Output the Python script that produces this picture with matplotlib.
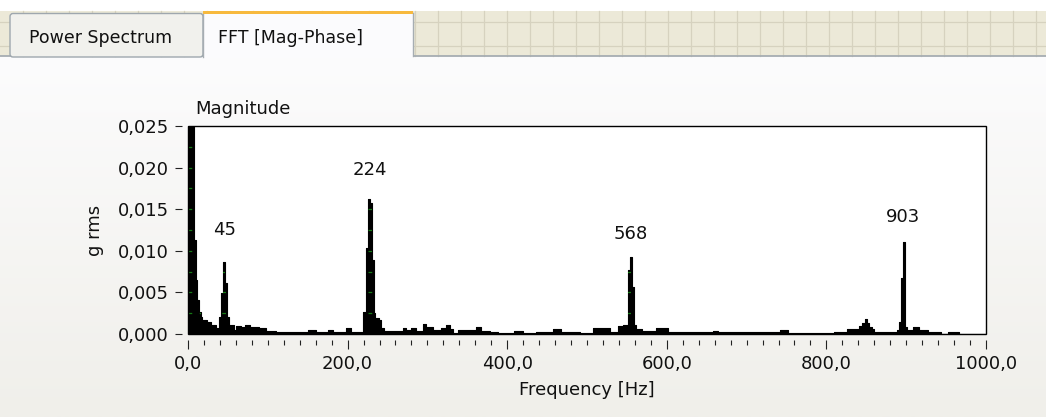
import numpy as np
import matplotlib
matplotlib.use("Agg")
import matplotlib.pyplot as plt
from matplotlib.patches import Rectangle, FancyBboxPatch
from matplotlib.ticker import FuncFormatter, MultipleLocator

# ---------------- data ----------------
freq_hz = [0, 7.5, 9.6, 11.7, 13.8, 15.8, 18, 24.2, 28.4, 34.7, 38.9, 41.4, 43.9,
           46.4, 48.5, 51.4, 57.7, 59.8, 66, 72, 78, 84, 89.5, 97.8, 110, 150,
           160.5, 175, 181.5, 198, 204.5, 219, 222.5, 225.3, 227.5, 230.4, 232.5,
           234.6, 239, 242, 246, 269, 273, 280, 286, 294, 298.6, 307, 317, 323.5,
           327.7, 332, 338, 361, 367, 378, 388, 409, 420, 436.5, 457.5, 468, 491,
           507.6, 528.6, 539, 545, 551.4, 553.9, 556.4, 558.7, 561, 568.4, 587,
           601.8, 658, 664.5, 742, 752, 809, 826, 841, 845, 848, 850.6, 853.5,
           857.7, 860, 889, 891, 893.7, 896.6, 899, 901.6, 908, 916, 927, 943,
           953, 966, 1000]
magnitude_grms = [0.0300, 0.0113, 0.0065, 0.0041, 0.0026, 0.0020, 0.0017, 0.0015,
                  0.0011, 0.0007, 0.0021, 0.0049, 0.0087, 0.0061, 0.0021, 0.0011,
                  0.0005, 0.0010, 0.0009, 0.0011, 0.0009, 0.0008, 0.0007, 0.0004,
                  0.0002, 0.0005, 0.0002, 0.0005, 0.0002, 0.0007, 0.0003, 0.0027,
                  0.0103, 0.0162, 0.0157, 0.0089, 0.0025, 0.0019, 0.0017, 0.0007,
                  0.0004, 0.0007, 0.0005, 0.0007, 0.0004, 0.0012, 0.0009, 0.0005,
                  0.0007, 0.0011, 0.0006, 0.0001, 0.0005, 0.0008, 0.0004, 0.0002,
                  0.0001, 0.0004, 0.0001, 0.0003, 0.0006, 0.0002, 0.0001, 0.0007,
                  0.0003, 0.0010, 0.0011, 0.0077, 0.0092, 0.0057, 0.0011, 0.0006,
                  0.0004, 0.0007, 0.0002, 0.0004, 0.0002, 0.0005, 0.0001, 0.0003,
                  0.0006, 0.0010, 0.0013, 0.0018, 0.0013, 0.0009, 0.0006, 0.0003,
                  0.0005, 0.0015, 0.0067, 0.0111, 0.0009, 0.0005, 0.0008, 0.0005,
                  0.0003, 0.0000, 0.0003, 0.0000, 0.0000]

peak_labels = ["45", "224", "568", "903"]
peak_label_freq = [45.3, 228.4, 555.0, 896.0]
peak_label_mag = [0.0125, 0.0197, 0.0120, 0.0141]

tab_names = ["Power Spectrum", "FFT [Mag-Phase]"]

# ---------------- figure ----------------
W, H = 1046, 417
fig = plt.figure(figsize=(W / 100, H / 100), dpi=100, facecolor="white")
FONT = "DejaVu Sans"
plt.rcParams["font.family"] = [FONT]

# background / decoration in pixel coordinates
bg = fig.add_axes([0, 0, 1, 1])
bg.set_xlim(0, W)
bg.set_ylim(H, 0)
bg.axis("off")

top_c = np.array([252, 252, 253]) / 255
bot_c = np.array([240, 239, 234]) / 255
t = np.linspace(0, 1, 256)[:, None, None]
grad = top_c[None, None, :] * (1 - t) + bot_c[None, None, :] * t
bg.imshow(grad, extent=(0, W, H, 56), aspect="auto", zorder=0, interpolation="bilinear")

# tab strip with beige grid
bg.add_patch(Rectangle((0, 11), W, 45, fc="#ece9d8", ec="none", zorder=1))
gx = 23.1
while gx < W:
    bg.plot([gx, gx], [11, 56], color="#d6d2bf", lw=0.9, zorder=1.5)
    gx += 23.03
for gy in (22.3, 45.7):
    bg.plot([0, W], [gy, gy], color="#d6d2bf", lw=0.9, zorder=1.5)
bg.plot([0, W], [56, 56], color="#a6adb2", lw=1.3, zorder=1.6)

# inactive tab
bg.add_patch(FancyBboxPatch((10, 13.5), 193, 43.5,
                            boxstyle="round,pad=0,rounding_size=3",
                            fc="#f1f1ed", ec="#9ea7ae", lw=1.0, zorder=2))
bg.text(29, 43, tab_names[0], fontsize=12.5, color="#111111",
        ha="left", va="baseline", zorder=3)
# active tab
bg.add_patch(Rectangle((203, 11), 210, 47, fc="#fbfbfd", ec="none", zorder=2.5))
bg.plot([203, 203], [13, 57], color="#a6adb2", lw=1.0, zorder=2.6)
bg.plot([413, 413], [13, 56], color="#a6adb2", lw=1.0, zorder=2.6)
bg.add_patch(Rectangle((203, 11), 210, 2.6, fc="#f7b93e", ec="none", zorder=2.7))
bg.text(218, 43, tab_names[1], fontsize=12.5, color="#111111",
        ha="left", va="baseline", zorder=3)

# ---------------- main plot ----------------
ax_l, ax_r, ax_t, ax_b = 188, 986, 126, 334
ax = fig.add_axes([ax_l / W, 1 - ax_b / H, (ax_r - ax_l) / W, (ax_b - ax_t) / H])
ax.set_facecolor("white")
ax.set_xlim(0, 1000)
ax.set_ylim(0, 0.025)

fill = ax.fill_between(freq_hz, magnitude_grms, step="post", color="black",
                       lw=0, zorder=2)
ax.step(freq_hz, magnitude_grms, where="post", color="black", lw=0.8, zorder=2.2)

# green grid, visible only on the black fill
clip_path = fill.get_paths()[0]
for yv in np.arange(0.0025, 0.025, 0.0025):
    ln, = ax.plot([0, 1000], [yv, yv], color="#157a15", lw=0.9,
                  dashes=(3, 6), zorder=3)
    ln.set_clip_path(clip_path, ax.transData)

for s in ax.spines.values():
    s.set_visible(False)
ax.spines["left"].set_position(("outward", 4.3))
ax.spines["bottom"].set_position(("outward", 4.0))
ax.add_patch(Rectangle((0, 0), 1, 1, transform=ax.transAxes, fill=False,
                       ec="black", lw=1.0, zorder=5, clip_on=False))

ax.xaxis.set_major_locator(MultipleLocator(200))
ax.xaxis.set_minor_locator(MultipleLocator(20))
ax.yaxis.set_major_locator(MultipleLocator(0.005))
ax.xaxis.set_major_formatter(FuncFormatter(lambda v, p: f"{v:.1f}".replace(".", ",")))
ax.yaxis.set_major_formatter(FuncFormatter(lambda v, p: f"{v:.3f}".replace(".", ",")))
ax.tick_params(axis="x", which="major", length=6.2, width=0.8, pad=5,
               labelsize=13, color="#222222", labelcolor="#111111")
ax.tick_params(axis="x", which="minor", length=3.6, width=0.8, color="#222222")
ax.tick_params(axis="y", which="major", length=5.3, width=0.8, pad=4.3,
               labelsize=13, color="#222222", labelcolor="#111111")

ax.set_xlabel("Frequency [Hz]", fontsize=13, color="#111111")
ax.xaxis.set_label_coords(0.5, -0.225)
ax.set_ylabel("g rms", fontsize=13, color="#111111")
ax.yaxis.set_label_coords(-0.105, 0.5)
ax.set_title("Magnitude", loc="left", x=0.009, pad=8.6, fontsize=13, color="#111111")

for lab, fx, my in zip(peak_labels, peak_label_freq, peak_label_mag):
    ax.text(fx, my, lab, ha="center", va="center", fontsize=13,
            color="#111111", zorder=6)

fig.savefig("out.png", dpi=100, facecolor=fig.get_facecolor())
